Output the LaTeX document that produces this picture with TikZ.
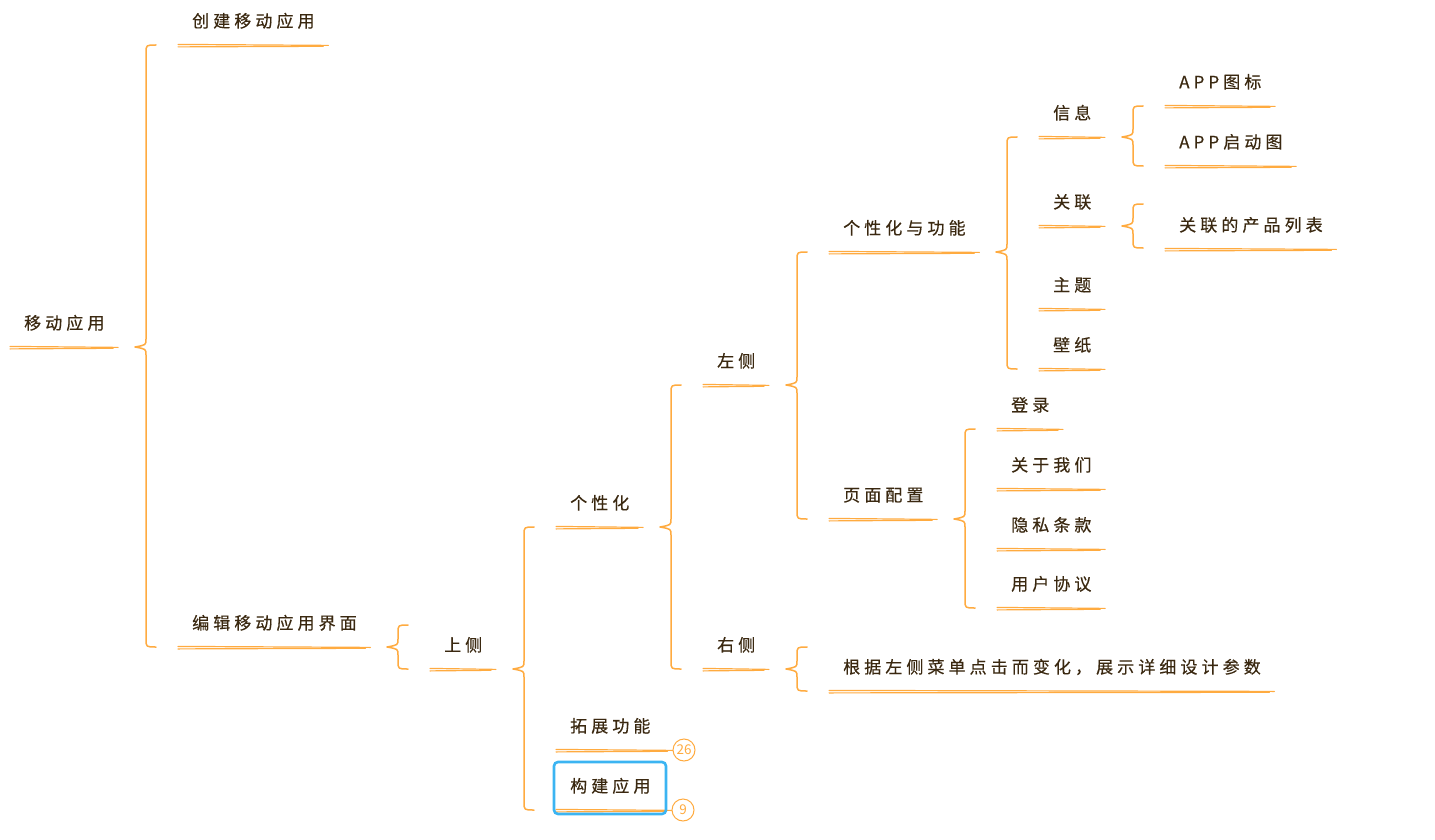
\documentclass[tikz,border=0pt]{standalone}
\usepackage{fontspec}
\setmainfont{Noto Sans CJK SC}
\newfontfamily\cjk[LetterSpace=24,FakeBold=0.4]{Noto Sans CJK SC}
\newfontfamily\badgef{Noto Sans CJK SC}
\usetikzlibrary{calc}
\definecolor{org}{HTML}{FFAB40}
\definecolor{txt}{HTML}{3A2810}
\definecolor{sel}{HTML}{3BB4F2}
\tikzset{
 topic/.style={anchor=south west, inner xsep=0pt, inner ysep=0pt, text height=14pt, text depth=17.5pt, text=txt,
   font=\cjk\fontsize{17pt}{20pt}\selectfont,
   execute at begin node={\hskip14pt}, execute at end node={\hskip13.5pt}},
 uline/.style={draw=org, line width=1.2pt, line cap=round},
 bracestyle/.style={draw=org, line width=1.5pt, line cap=round, line join=round},
 badge/.style={circle, draw=org, line width=1pt, minimum size=22pt, inner sep=0pt, text=org,
   font=\badgef\fontsize{13.5pt}{15pt}\selectfont},
 selbox/.style={draw=sel, line width=2.6pt, rounded corners=4pt}
}
\newcommand\ulin[2]{%
 \draw[uline] ($(#1)+(0,-0.6)$) -- ($(#2)+(0,0.4)$);
 \draw[uline] ($(#1)+(0,1.9)$) -- ($(#2)+(-5,1.3)$);}
\newcommand\topicul[1]{\ulin{#1.south west}{#1.south east}}
\newcommand\brc[3]{%
 \draw[bracestyle] let \p1=(#1.south), \p2=(#2.south west), \p3=(#3.south west) in
 (\x2-22pt,\y2) .. controls (\x2-32pt,\y2) .. (\x2-32pt,\y2-8pt)
 -- (\x2-32pt,\y1+8pt) .. controls (\x2-32pt,\y1+2pt) .. (\x2-43pt,\y1)
 .. controls (\x2-32pt,\y1-2pt) .. (\x2-32pt,\y1-8pt)
 -- (\x2-32pt,\y3+8pt) .. controls (\x2-32pt,\y3) .. (\x2-22pt,\y3);}
\newcommand\brcone[2]{%
 \draw[bracestyle] let \p1=(#1.south), \p2=(#2.south west) in
 (\x2-22pt,\y1+22pt) .. controls (\x2-32pt,\y1+22pt) .. (\x2-32pt,\y1+14pt)
 -- (\x2-32pt,\y1+8pt) .. controls (\x2-32pt,\y1+2pt) .. (\x2-43pt,\y1)
 .. controls (\x2-32pt,\y1-2pt) .. (\x2-32pt,\y1-8pt)
 -- (\x2-32pt,\y1-14pt) .. controls (\x2-32pt,\y1-22pt) .. (\x2-22pt,\y1-22pt);}
\begin{document}
\begin{tikzpicture}[x=1pt,y=-1pt]
\path[use as bounding box] (0,0) rectangle (1435,840);
% nodes
\node[topic] (root) at (10,347) {移动应用};
\node[topic] (c1) at (178,45) {创建移动应用};
\node[topic] (c2) at (178,647) {编辑移动应用界面};
\node[topic] (up) at (430,669) {上侧};
\node[topic] (gx) at (556,527) {个性化};
\node[topic] (tz) at (556,750) {拓展功能};
\node[topic] (gj) at (556,810) {构建应用};
\node[topic] (zc) at (703,385) {左侧};
\node[topic] (yc) at (703,669) {右侧};
\node[topic] (gf) at (829,252) {个性化与功能};
\node[topic] (ym) at (829,519) {页面配置};
\node[topic] (gs) at (829,691) {根据左侧菜单点击而变化，展示详细设计参数};
\node[topic] (xx) at (1039,137) {信息};
\node[topic] (gl) at (1039,226) {关联};
\node[topic] (zt) at (1039,309) {主题};
\node[topic] (bz) at (1039,369) {壁纸};
\node[topic] (dl) at (997,429) {登录};
\node[topic] (gy) at (997,489) {关于我们};
\node[topic] (ys) at (997,549) {隐私条款};
\node[topic] (yh) at (997,608) {用户协议};
\node[topic] (tb) at (1165,106) {APP图标};
\node[topic] (qd) at (1165,166) {APP启动图};
\node[topic] (cp) at (1165,249) {关联的产品列表};
\node[badge] (b26) at (684,750) {26};
\node[badge] (b9) at (683,810) {9};
% underlines
\foreach \n in {root,c1,c2,up,gx,zc,yc,gf,ym,gs,xx,gl,zt,bz,dl,gy,ys,yh,tb,qd,cp}{\topicul{\n}}
\ulin{tz.south west}{b26.west}
\ulin{gj.south west}{b9.west}
% selection box
\draw[selbox] ($(gj.south west)+(-2,4)$) rectangle ($(gj.south west)+(110,-48)$);
% braces
\brc{root}{c1}{c2}
\brcone{c2}{up}
\brc{up}{gx}{gj}
\brc{gx}{zc}{yc}
\brc{zc}{gf}{ym}
\brcone{yc}{gs}
\brc{gf}{xx}{bz}
\brc{xx}{tb}{qd}
\brcone{gl}{cp}
\brc{ym}{dl}{yh}
\end{tikzpicture}
\end{document}
